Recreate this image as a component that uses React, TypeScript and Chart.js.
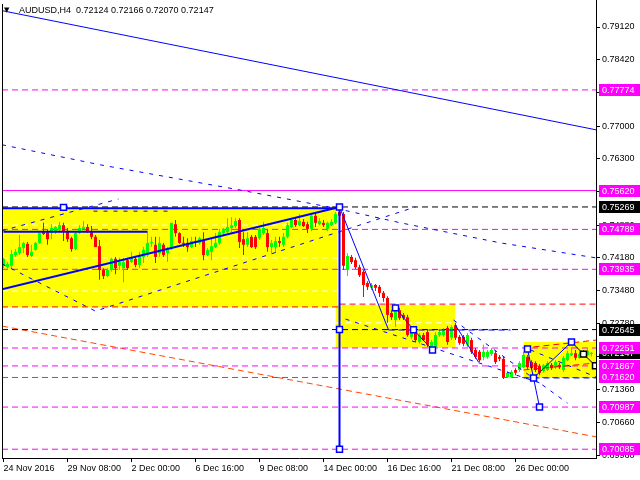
import React, { useEffect, useRef } from "react";
import { Chart, registerables } from "chart.js";

Chart.register(...registerables);
Chart.defaults.font.family = "Liberation Sans";

const symbol = "AUDUSD";
const period = "H4";

// H4 candles, index 0 = 24 Nov 2016 16:00
const opens = [
  0.7401, 0.7398, 0.7401, 0.7424, 0.7428, 0.7439, 0.7448, 0.7422, 0.7435, 0.7450,
  0.7473, 0.7473, 0.7471, 0.7473, 0.7478, 0.7488, 0.7475, 0.7460, 0.7437, 0.7471,
  0.7480, 0.7484, 0.7473, 0.7463, 0.7443, 0.7392, 0.7379, 0.7392, 0.7416, 0.7401,
  0.7396, 0.7413, 0.7409, 0.7416, 0.7403, 0.7420, 0.7424, 0.7450, 0.7446, 0.7428,
  0.7446, 0.7428, 0.7437, 0.7490, 0.7471, 0.7450, 0.7450, 0.7441, 0.7454, 0.7450,
  0.7456, 0.7424, 0.7431, 0.7441, 0.7450, 0.7471, 0.7473, 0.7482, 0.7486, 0.7499,
  0.7458, 0.7446, 0.7463, 0.7463, 0.7460, 0.7471, 0.7471, 0.7441, 0.7441, 0.7454,
  0.7446, 0.7463, 0.7484, 0.7499, 0.7488, 0.7495, 0.7490, 0.7480, 0.7508, 0.7490,
  0.7493, 0.7480, 0.7488, 0.7493, 0.7516, 0.7512, 0.7392, 0.7420, 0.7413, 0.7398,
  0.7388, 0.7364, 0.7354, 0.7360, 0.7356, 0.7343, 0.7332, 0.7300, 0.7285, 0.7306,
  0.7296, 0.7291, 0.7249, 0.7257, 0.7238, 0.7253, 0.7259, 0.7227, 0.7227, 0.7253,
  0.7253, 0.7268, 0.7247, 0.7274, 0.7249, 0.7249, 0.7232, 0.7242, 0.7221, 0.7217,
  0.7206, 0.7206, 0.7212, 0.7214, 0.7206, 0.7202, 0.7163, 0.7163, 0.7178, 0.7178,
  0.7184, 0.7206, 0.7195, 0.7193, 0.7187, 0.7176, 0.7178, 0.7189, 0.7184, 0.7189,
  0.7178, 0.7199, 0.7210, 0.7214, 0.7204, 0.7217, 0.7210, 0.72124,
];
const highs = [
  0.7418, 0.7409, 0.7435, 0.7437, 0.7467, 0.7452, 0.7452, 0.7446, 0.7452, 0.7473,
  0.7493, 0.7478, 0.7490, 0.7486, 0.7495, 0.7493, 0.7482, 0.7463, 0.7473, 0.7488,
  0.7497, 0.7490, 0.7486, 0.7467, 0.7456, 0.7396, 0.7396, 0.7418, 0.7420, 0.7418,
  0.7418, 0.7418, 0.7431, 0.7420, 0.7431, 0.7441, 0.7473, 0.7463, 0.7463, 0.7463,
  0.7450, 0.7441, 0.7493, 0.7499, 0.7473, 0.7463, 0.7460, 0.7463, 0.7463, 0.7463,
  0.7473, 0.7439, 0.7460, 0.7471, 0.7480, 0.7482, 0.7503, 0.7505, 0.7503, 0.7503,
  0.7473, 0.7473, 0.7467, 0.7467, 0.7482, 0.7495, 0.7478, 0.7456, 0.7463, 0.7463,
  0.7471, 0.7493, 0.7503, 0.7503, 0.7512, 0.7501, 0.7495, 0.7510, 0.7514, 0.7503,
  0.7499, 0.7495, 0.7501, 0.7516, 0.7527, 0.7516, 0.7428, 0.7424, 0.7418, 0.7403,
  0.7392, 0.7368, 0.7364, 0.7362, 0.7360, 0.7347, 0.7336, 0.7306, 0.7317, 0.7311,
  0.7300, 0.7296, 0.7264, 0.7261, 0.7257, 0.7257, 0.7264, 0.7242, 0.7259, 0.7264,
  0.7268, 0.7272, 0.7274, 0.7279, 0.7253, 0.7253, 0.7257, 0.7247, 0.7225, 0.7221,
  0.7232, 0.7221, 0.7225, 0.7219, 0.7210, 0.7206, 0.7176, 0.7178, 0.7182, 0.7197,
  0.7217, 0.7210, 0.7199, 0.7197, 0.7191, 0.7191, 0.7197, 0.7193, 0.7199, 0.7193,
  0.7208, 0.7219, 0.7227, 0.7221, 0.7217, 0.7221, 0.7223, 0.72166,
];
const lows = [
  0.7396, 0.7396, 0.7396, 0.7420, 0.7424, 0.7428, 0.7420, 0.7420, 0.7433, 0.7448,
  0.7467, 0.7446, 0.7458, 0.7469, 0.7473, 0.7454, 0.7452, 0.7431, 0.7435, 0.7469,
  0.7480, 0.7471, 0.7458, 0.7441, 0.7371, 0.7373, 0.7377, 0.7388, 0.7383, 0.7392,
  0.7366, 0.7392, 0.7407, 0.7398, 0.7396, 0.7407, 0.7420, 0.7441, 0.7407, 0.7420,
  0.7420, 0.7409, 0.7435, 0.7463, 0.7448, 0.7441, 0.7431, 0.7439, 0.7441, 0.7446,
  0.7413, 0.7422, 0.7413, 0.7439, 0.7446, 0.7467, 0.7471, 0.7473, 0.7482, 0.7439,
  0.7424, 0.7441, 0.7439, 0.7437, 0.7456, 0.7467, 0.7431, 0.7428, 0.7428, 0.7441,
  0.7441, 0.7460, 0.7482, 0.7484, 0.7486, 0.7484, 0.7471, 0.7475, 0.7484, 0.7488,
  0.7484, 0.7475, 0.7486, 0.7490, 0.7503, 0.7392, 0.7379, 0.7405, 0.7394, 0.7377,
  0.7334, 0.7349, 0.7349, 0.7347, 0.7334, 0.7324, 0.7279, 0.7285, 0.7270, 0.7285,
  0.7285, 0.7249, 0.7244, 0.7238, 0.7234, 0.7240, 0.7227, 0.7223, 0.7225, 0.7249,
  0.7249, 0.7232, 0.7242, 0.7242, 0.7232, 0.7229, 0.7227, 0.7212, 0.7202, 0.7195,
  0.7199, 0.7202, 0.7208, 0.7191, 0.7197, 0.7159, 0.7161, 0.7161, 0.7167, 0.7174,
  0.7182, 0.7180, 0.7178, 0.7174, 0.7167, 0.7172, 0.7176, 0.7178, 0.7180, 0.7180,
  0.7174, 0.7197, 0.7208, 0.7199, 0.7202, 0.7208, 0.7208, 0.72070,
];
const closes = [
  0.7416, 0.7405, 0.7426, 0.7431, 0.7441, 0.7450, 0.7424, 0.7431, 0.7450, 0.7471,
  0.7469, 0.7458, 0.7482, 0.7484, 0.7488, 0.7475, 0.7458, 0.7437, 0.7471, 0.7482,
  0.7484, 0.7473, 0.7463, 0.7441, 0.7392, 0.7379, 0.7392, 0.7416, 0.7396, 0.7409,
  0.7409, 0.7396, 0.7418, 0.7403, 0.7424, 0.7435, 0.7450, 0.7452, 0.7420, 0.7450,
  0.7424, 0.7439, 0.7493, 0.7471, 0.7450, 0.7448, 0.7441, 0.7454, 0.7450, 0.7460,
  0.7424, 0.7435, 0.7443, 0.7450, 0.7473, 0.7480, 0.7484, 0.7488, 0.7497, 0.7452,
  0.7446, 0.7460, 0.7441, 0.7441, 0.7480, 0.7482, 0.7441, 0.7450, 0.7454, 0.7450,
  0.7463, 0.7488, 0.7499, 0.7488, 0.7497, 0.7486, 0.7480, 0.7508, 0.7493, 0.7497,
  0.7488, 0.7493, 0.7495, 0.7512, 0.7508, 0.7401, 0.7422, 0.7409, 0.7398, 0.7381,
  0.7360, 0.7356, 0.7360, 0.7354, 0.7343, 0.7332, 0.7296, 0.7291, 0.7311, 0.7289,
  0.7289, 0.7253, 0.7259, 0.7242, 0.7253, 0.7242, 0.7232, 0.7238, 0.7253, 0.7259,
  0.7264, 0.7238, 0.7270, 0.7247, 0.7236, 0.7234, 0.7253, 0.7217, 0.7206, 0.7199,
  0.7217, 0.7217, 0.7221, 0.7195, 0.7202, 0.7163, 0.7172, 0.7174, 0.7172, 0.7193,
  0.7210, 0.7184, 0.7182, 0.7178, 0.7172, 0.7187, 0.7193, 0.7182, 0.7195, 0.7184,
  0.7204, 0.7214, 0.7214, 0.7204, 0.7212, 0.7208, 0.7219, 0.72147,
];

const timeTickIdx = [0, 16, 32, 48, 64, 80, 96, 112, 128];
const timeTickLabels = [
  "24 Nov 2016", "29 Nov 08:00", "2 Dec 00:00", "6 Dec 16:00", "9 Dec 08:00",
  "14 Dec 00:00", "16 Dec 16:00", "21 Dec 08:00", "26 Dec 00:00",
];
const priceTicks = [
  0.7912, 0.7842, 0.7771, 0.77, 0.763, 0.756, 0.7488, 0.7418, 0.7348, 0.7278,
  0.7207, 0.7136, 0.7066, 0.6996,
];

// axis range (bar index / price)
const X_MIN = -0.375;
const X_MAX = 148.125;
const Y_MIN = 0.69897;
const Y_MAX = 0.79698;

// horizontal levels
const magentaLevels = [0.77774, 0.74789, 0.73935, 0.72251, 0.71867, 0.7162, 0.70987, 0.70085];
const magentaSolidLevels = [0.7562];
const blackLevels = [0.75269, 0.72645];

// rectangles: [fromIndex, toIndex, lowPrice, highPrice]
const rects = [
  [X_MIN, 83.5, 0.7313, 0.7523],
  [83, 113, 0.7225, 0.7317],
  [130, X_MAX, 0.7161, 0.7238],
];

// trend objects as [index, price] points
const longTrend = [[X_MIN, 0.7947], [X_MAX, 0.7692]];
const channelUpper = [[X_MIN, 0.766], [24.25, 0.7617], [59.25, 0.7563], [82.5, 0.7525], [99.25, 0.7493], [124.25, 0.745], [X_MAX, 0.7418]];
const vLine = [[X_MIN, 0.7405], [23, 0.7304], [103, 0.7527]];
const upperLeftDash = [[X_MIN, 0.7476], [28.75, 0.7544]];
const shortDash = [[22.5, 0.7518], [41.75, 0.7518]];
const flatSolid = [[0, 0.7474], [36, 0.7474]];
const risingSolid = [[X_MIN, 0.7351], [84, 0.7527]];
const topSolid = [[X_MIN, 0.7524], [84, 0.7524]];
const verticalLine = [[84, 0.7527], [84, 0.70085]];
const dropLine = [[84, 0.7527], [96.25, 0.7264]];
const midDash = [[96.25, 0.72636], [126.75, 0.72636]];
const zigzag1 = [[98, 0.7311], [102.5, 0.7264], [107.25, 0.7221]];
const zigzag2 = [[113, 0.7274], [118.75, 0.7195]];
const lowerDash1 = [[85.5, 0.7287], [134.25, 0.715]];
const lowerDash2 = [[112.5, 0.7285], [141, 0.7107]];
const rightDash1 = [[131.75, 0.7221], [X_MAX, 0.7163]];
const rightDash2 = [[130, 0.7161], [X_MAX, 0.7161]];
const rightZig = [[131, 0.7223], [132.5, 0.7161], [134, 0.7099]];
const rightUp = [[132.5, 0.7161], [142, 0.7238]];
const rightBlack = [[142, 0.7238], [145, 0.7212], [148, 0.7187]];
const redRect3a = [[130, 0.7225], [X_MAX, 0.7242]];
const redRect3b = [[130, 0.7178], [X_MAX, 0.7193]];
const orangeLine = [[X_MIN, 0.7272], [X_MAX, 0.7035]];
const redLeft = [[X_MIN, 0.7313], [84, 0.7313]];
const redRight = [[84, 0.7319], [X_MAX, 0.7319]];
const whiteLevels1 = [0.7488, 0.7418, 0.7347];
const whiteLevels2 = [0.7279];
const blueSquares = [[15, 0.7526], [84, 0.7527], [84, 0.72645], [84, 0.70085], [98, 0.7311], [102.5, 0.7264], [107.25, 0.7221], [131, 0.7223], [132.5, 0.7161], [134, 0.7099], [142, 0.7238]];
const blackSquares = [[145, 0.7212], [148, 0.7187]];

const FONT = { family: "Liberation Sans", size: 9 };

export default function App() {
  const ref = useRef<HTMLCanvasElement | null>(null);

  useEffect(() => {
    const canvas = ref.current;
    if (!canvas) return;
    const pts = (arr: number[][]) => arr.map(([x, y]) => ({ x, y }));
    const lineDs = (arr: number[][], color: string, width: number, dash: number[], order: number) => ({
      type: "line",
      data: pts(arr),
      borderColor: color,
      borderWidth: width,
      borderDash: dash,
      pointRadius: 0,
      pointHoverRadius: 0,
      fill: false,
      tension: 0,
      order,
    });
    const datasets: any[] = [];
    rects.forEach(([x0, x1, lo, hi]) => {
      datasets.push({
        type: "line",
        data: pts([[x0, hi], [x1, hi]]),
        borderWidth: 0,
        borderColor: "rgba(0,0,0,0)",
        backgroundColor: "#ffff00",
        fill: { value: lo },
        pointRadius: 0,
        tension: 0,
        order: 40,
      });
    });
    whiteLevels1.forEach((v) => datasets.push(lineDs([[X_MIN, v], [83.5, v]], "#ffffff", 1, [6, 4], 35)));
    whiteLevels2.forEach((v) => datasets.push(lineDs([[83, v], [113, v]], "#ffffff", 1, [6, 4], 35)));
    magentaLevels.forEach((v) => datasets.push(lineDs([[X_MIN, v], [X_MAX, v]], "#ff00ff", 1, [6, 4], 30)));
    magentaSolidLevels.forEach((v) => datasets.push(lineDs([[X_MIN, v], [X_MAX, v]], "#ff00ff", 1, [], 30)));
    blackLevels.forEach((v) => datasets.push(lineDs([[X_MIN, v], [X_MAX, v]], "#000000", 1, [6, 4], 30)));
    datasets.push(lineDs(redLeft, "#ff0000", 1, [6, 4], 30));
    datasets.push(lineDs(redRight, "#ff0000", 1, [6, 4], 30));
    datasets.push(lineDs(orangeLine, "#ff4500", 1, [6, 4], 30));

    const colors = opens.map((o, i) => (closes[i] >= o ? "#00ff00" : "#ff0000"));
    datasets.push({
      type: "bar",
      data: opens.map((_, i) => ({ x: i, y: [lows[i], highs[i]] })),
      backgroundColor: colors,
      borderWidth: 0,
      barThickness: 1,
      grouped: false,
      minBarLength: 1,
      inflateAmount: 0,
      order: 21,
    });
    datasets.push({
      type: "bar",
      data: opens.map((o, i) => ({ x: i, y: [o, closes[i]] })),
      backgroundColor: colors,
      borderWidth: 0,
      barThickness: 3,
      grouped: false,
      minBarLength: 1,
      inflateAmount: 0,
      order: 20,
    });

    const blue = "#0000ff";
    datasets.push(lineDs(longTrend, blue, 1, [], 5));
    datasets.push(lineDs(channelUpper, blue, 1, [4, 6], 5));
    datasets.push(lineDs(vLine, blue, 1, [4, 6], 5));
    datasets.push(lineDs(upperLeftDash, blue, 1, [4, 6], 5));
    datasets.push(lineDs(shortDash, blue, 1, [4, 6], 5));
    datasets.push(lineDs(flatSolid, blue, 2, [], 5));
    datasets.push(lineDs(risingSolid, blue, 2, [], 5));
    datasets.push(lineDs(topSolid, blue, 2, [], 5));
    datasets.push(lineDs(verticalLine, blue, 2, [], 5));
    datasets.push(lineDs(dropLine, blue, 1, [], 5));
    datasets.push(lineDs(midDash, blue, 1, [6, 4], 4));
    datasets.push(lineDs(zigzag1, blue, 1, [], 5));
    datasets.push(lineDs(zigzag2, blue, 1, [], 5));
    datasets.push(lineDs(lowerDash1, blue, 1, [4, 6], 5));
    datasets.push(lineDs(lowerDash2, blue, 1, [4, 6], 5));
    datasets.push(lineDs(rightDash1, blue, 1, [4, 6], 5));
    datasets.push(lineDs(rightDash2, blue, 1, [6, 4], 5));
    datasets.push(lineDs(rightZig, blue, 1, [], 5));
    datasets.push(lineDs(rightUp, blue, 1, [], 5));
    datasets.push(lineDs(rightBlack, "#000000", 1, [], 5));
    datasets.push(lineDs(redRect3a, "#ff0000", 1, [6, 4], 5));
    datasets.push(lineDs(redRect3b, "#ff0000", 1, [6, 4], 5));

    datasets.push({
      type: "line",
      data: pts(blueSquares),
      showLine: false,
      pointStyle: "rect",
      pointRadius: 4.2,
      pointBackgroundColor: "#ffffff",
      pointBorderColor: blue,
      pointBorderWidth: 1.5,
      order: 1,
    });
    datasets.push({
      type: "line",
      data: pts(blackSquares),
      showLine: false,
      pointStyle: "rect",
      pointRadius: 4.2,
      pointBackgroundColor: "#ffffff",
      pointBorderColor: "#000000",
      pointBorderWidth: 1.5,
      order: 1,
    });

    const last = closes.length - 1;
    const decor = {
      id: "decor",
      afterDraw(chart: any) {
        const { ctx, chartArea } = chart;
        const y = chart.scales.y;
        ctx.save();
        ctx.strokeStyle = "#000";
        ctx.lineWidth = 1;
        ctx.beginPath();
        ctx.moveTo(chartArea.left + 0.5, chartArea.top + 4);
        ctx.lineTo(chartArea.left + 0.5, chartArea.bottom);
        ctx.stroke();

        ctx.font = `${FONT.size}px "${FONT.family}"`;
        ctx.textBaseline = "middle";
        ctx.textAlign = "left";
        const box = (v: number, bg: string) => {
          const py = Math.round(y.getPixelForValue(v));
          ctx.fillStyle = bg;
          ctx.fillRect(chartArea.right + 3, py - 6, 41, 12);
          ctx.fillStyle = "#ffffff";
          ctx.fillText(v.toFixed(5), chartArea.right + 6, py + 0.5);
        };
        box(closes[last], "#000000");
        blackLevels.forEach((v) => box(v, "#000000"));
        magentaSolidLevels.forEach((v) => box(v, "#ff00ff"));
        magentaLevels.forEach((v) => box(v, "#ff00ff"));

        ctx.fillStyle = "#000";
        ctx.font = `7px "DejaVu Sans"`;
        ctx.fillText("\u25BC", chartArea.left + 2, 10);
        ctx.font = `${FONT.size}px "${FONT.family}"`;
        const header = `${symbol},${period}  ${opens[last].toFixed(5)} ${highs[last].toFixed(5)} ${lows[last].toFixed(5)} ${closes[last].toFixed(5)}`;
        ctx.fillText(header, chartArea.left + 17, 10.5);
        ctx.restore();
      },
    };

    const chart = new Chart(canvas, {
      type: "bar",
      data: { datasets },
      options: {
        animation: false,
        responsive: false,
        events: [],
        layout: { autoPadding: false, padding: { left: 2, top: 0, right: 0, bottom: 0 } },
        plugins: {
          legend: { display: false },
          tooltip: { enabled: false },
          title: { display: false },
        },
        scales: {
          x: {
            type: "linear",
            min: X_MIN,
            max: X_MAX,
            bounds: "data",
            offset: false,
            position: "bottom",
            grid: { display: true, offset: false, drawOnChartArea: false, drawTicks: true, tickLength: 4, color: "#000" },
            border: { display: true, color: "#000", width: 1 },
            ticks: {
              autoSkip: false,
              maxRotation: 0,
              minRotation: 0,
              align: "start",
              padding: 1,
              color: "#000",
              font: FONT,
              callback: (_v: any, i: number) => timeTickLabels[i],
            },
            afterBuildTicks: (s: any) => {
              s.ticks = timeTickIdx.map((v) => ({ value: v }));
            },
            afterFit: (s: any) => {
              s.height = 22;
              s.paddingLeft = 0;
              s.paddingRight = 0;
              s.paddingTop = 0;
              s.paddingBottom = 0;
            },
          },
          y: {
            type: "linear",
            position: "right",
            min: Y_MIN,
            max: Y_MAX,
            bounds: "data",
            grid: { display: true, drawOnChartArea: false, drawTicks: true, tickLength: 4, color: "#000" },
            border: { display: true, color: "#000", width: 1 },
            ticks: {
              autoSkip: false,
              padding: 2,
              color: "#000",
              font: FONT,
              callback: (v: any) => Number(v).toFixed(5),
            },
            afterBuildTicks: (s: any) => {
              s.ticks = priceTicks.map((v) => ({ value: v }));
            },
            afterFit: (s: any) => {
              s.width = 44;
              s.paddingLeft = 0;
              s.paddingRight = 0;
              s.paddingTop = 0;
              s.paddingBottom = 0;
            },
          },
        },
      } as any,
      plugins: [decor],
    } as any);
    return () => chart.destroy();
  }, []);

  return (
    <div style={{ position: "absolute", left: 0, top: 0, width: 640, height: 480, background: "#fff" }}>
      <canvas ref={ref} width={640} height={480} style={{ display: "block" }} />
    </div>
  );
}
